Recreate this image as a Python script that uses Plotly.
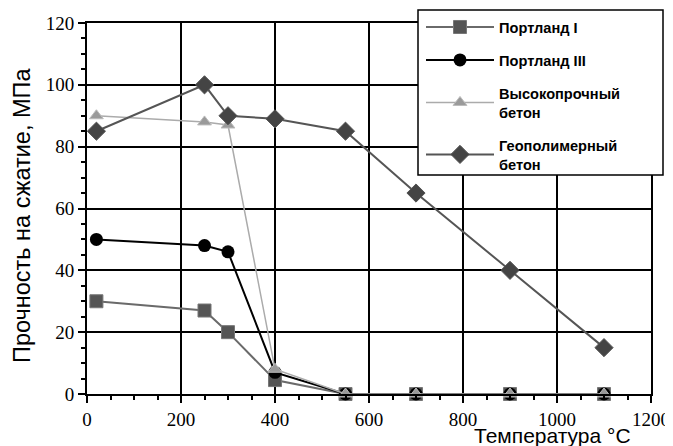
import plotly.graph_objects as go

temps = [20, 250, 300, 400, 550, 700, 900, 1100]
portland1 = [30, 27, 20, 4.5, 0, 0, 0, 0]
portland3 = [50, 48, 46, 7, 0, 0, 0, 0]
high_strength = [90, 88, 87, 8, 0, 0, 0, 0]
geopolymer = [85, 100, 90, 89, 85, 65, 40, 15]

names = ["Портланд I", "Портланд III", "Высокопрочный<br>бетон", "Геополимерный<br>бетон"]
x_ticks = [0, 200, 400, 600, 800, 1000, 1200]
y_ticks = [0, 20, 40, 60, 80, 100, 120]

# page body has an 8px margin: figure is placed at (8, 8) in the window
OFF = 8
W, H = 673 - OFF, 446 - OFF
PL, PR, PT, PB = 87, 651, 23, 394  # plot area in window pixels
PW, PH = PR - PL, PB - PT


def px_x(wx):
    return (wx - PL) / PW


def px_y(wy):
    return (PB - wy) / PH


fig = go.Figure()
styles = [
    dict(line=dict(color="#6a6a6a", width=2), marker=dict(symbol="square", size=13, color="#555555", line=dict(color="#777777", width=1))),
    dict(line=dict(color="#000000", width=2), marker=dict(symbol="circle", size=13, color="#000000")),
    dict(line=dict(color="#ababab", width=1.5), marker=dict(symbol="triangle-up", size=12, color="#9a9a9a", line=dict(color="#bbbbbb", width=1))),
    dict(line=dict(color="#555555", width=2), marker=dict(symbol="diamond", size=14, color="#444444", line=dict(color="#555555", width=1))),
]
for i, (vals, nm) in enumerate(zip([portland1, portland3, high_strength, geopolymer], names)):
    fig.add_trace(go.Scatter(x=temps, y=vals, name=nm, mode="lines+markers",
                             cliponaxis=False, legendgroup=str(i), **styles[i]))

axis_common = dict(
    showgrid=True, gridcolor="#000000", gridwidth=1.6,
    showline=True, linecolor="#000000", linewidth=1.8, mirror=True,
    ticks="outside", ticklen=7, tickcolor="#000000", tickwidth=1.5,
    tickfont=dict(family="Liberation Serif, serif", size=19, color="#000000"),
    zeroline=False,
)
fig.update_xaxes(range=[0, 1200], tickvals=x_ticks,
                 minor=dict(dtick=50, ticklen=4, tickcolor="#000000", ticks="outside", showgrid=False),
                 **axis_common)
fig.update_yaxes(range=[0, 120], tickvals=y_ticks,
                 minor=dict(dtick=5, ticklen=4, tickcolor="#000000", ticks="outside", showgrid=False),
                 **axis_common)

fig.add_annotation(text="Температура °C", xref="paper", yref="paper", x=px_x(633), y=px_y(422),
                   xanchor="right", yanchor="top", showarrow=False,
                   font=dict(family="Liberation Sans", size=21, color="#000000"))
fig.add_annotation(text="Прочность на сжатие, МПа", xref="paper", yref="paper", x=px_x(22), y=px_y(216),
                   xanchor="center", yanchor="middle", textangle=-90, showarrow=False,
                   font=dict(family="Liberation Sans", size=23.5, color="#000000"))

# legend frame
fig.add_shape(type="rect", xref="paper", yref="paper", x0=px_x(418), x1=px_x(663), y0=px_y(175), y1=px_y(10),
              fillcolor="white", line=dict(color="#000000", width=1.5), layer="above")

fig.update_layout(
    width=W, height=H,
    margin=dict(l=PL - OFF, r=W - (PR - OFF), t=PT - OFF, b=H - (PB - OFF), autoexpand=False),
    paper_bgcolor="white", plot_bgcolor="white",
    showlegend=True,
    legend=dict(x=px_x(421), y=px_y(11), xanchor="left", yanchor="top",
                bgcolor="rgba(0,0,0,0)", borderwidth=0,
                tracegroupgap=11, itemwidth=68,
                font=dict(family="Liberation Sans", size=14.6, color="#000000", weight="bold")),
)

fig.write_html("out.html")
